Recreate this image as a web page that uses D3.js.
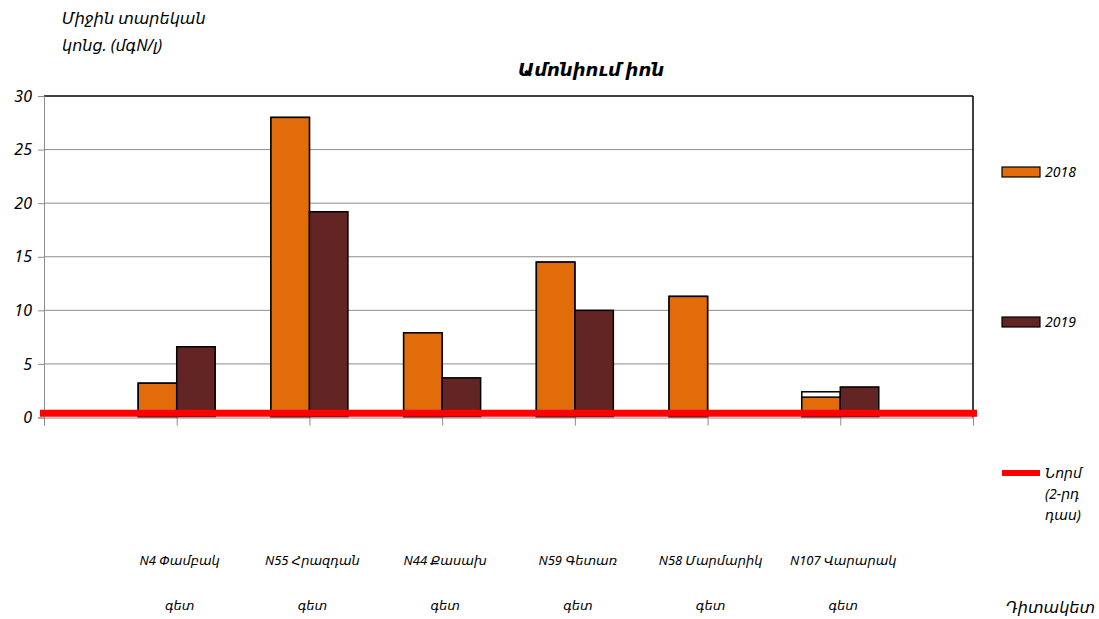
<!DOCTYPE html>
<html><head><meta charset="utf-8">
<script src="https://cdn.jsdelivr.net/npm/d3@7"></script>
<style>
body{margin:0;background:#fff;}
text{font-family:"Noto Sans","DejaVu Sans",sans-serif;font-style:italic;fill:#000;}
</style></head>
<body><svg id="c" width="1099" height="619"></svg>
<script>
const categories = ["N4 Փամբակ", "N55 Հրազդան", "N44 Քասախ", "N59 Գետառ", "N58 Մարմարիկ", "N107 Վարարակ"];
const categoryLine2 = ["գետ", "գետ", "գետ", "գետ", "գետ", "գետ"];
const values2018 = [3.2, 28.0, 7.9, 14.5, 11.3, 2.4];
const values2018Filled = [3.2, 28.0, 7.9, 14.5, 11.3, 1.9];
const values2019 = [6.6, 19.2, 3.7, 10.0, null, 2.85];
const normValue = 0.4;
const yTicks = [0, 5, 10, 15, 20, 25, 30];
const seriesNames = ["2018", "2019"];
const normLabel = ["Նորմ", "(2-րդ", "դաս)"];
const title = "Ամոնիում իոն";
const yTitle = ["Միջին տարեկան", "կոնց. (մգN/լ)"];
const xTitle = "Դիտակետ";

const svg = d3.select("#c");
const L = 44, R = 973, T = 96, B = 417.5;
const x = d3.scaleLinear().domain([0, categories.length + 1]).range([L, R]);
const y = d3.scaleLinear().domain([0, 30]).range([B, T]);
const step = x(1) - x(0);
const bw = step * 0.29;
const c2018 = "#e36c0a", c2019 = "#632523";
const FF = '"Noto Sans","DejaVu Sans",sans-serif';

// gridlines
svg.append("g").selectAll("line").data(yTicks.filter(d => d > 0 && d < 30)).join("line")
  .attr("x1", L).attr("x2", R).attr("y1", d => y(d)).attr("y2", d => y(d))
  .attr("stroke", "#8c8c8c").attr("stroke-width", 1);

// top & right border
svg.append("line").attr("x1", L).attr("x2", R).attr("y1", y(30)).attr("y2", y(30)).attr("stroke", "#000").attr("stroke-width", 1.5);
svg.append("line").attr("x1", R).attr("x2", R).attr("y1", y(30)).attr("y2", B).attr("stroke", "#000").attr("stroke-width", 1.5);

// y axis
const yAxis = d3.axisLeft(y).tickValues(yTicks).tickSize(6).tickPadding(6);
const gy = svg.append("g").attr("transform", `translate(${L},0)`).call(yAxis);
gy.select(".domain").attr("stroke", "#8c8c8c");
gy.selectAll(".tick line").attr("stroke", "#8c8c8c");
gy.selectAll(".tick text").style("font-size", "16px").style("font-family", FF).style("font-style", "italic").attr("fill", "#000");

// x axis
const xAxis = d3.axisBottom(x).tickValues(d3.range(0, categories.length + 2)).tickSize(8).tickFormat("");
const gx = svg.append("g").attr("transform", `translate(0,${B})`).call(xAxis);
gx.select(".domain").attr("stroke", "#8c8c8c");
gx.selectAll(".tick line").attr("stroke", "#8c8c8c");

// bars 2018
const g18 = svg.append("g");
g18.selectAll("rect.o").data(values2018).join("rect").attr("class", "o")
  .attr("x", (d, i) => x(i + 1) - bw).attr("width", bw)
  .attr("y", d => y(d)).attr("height", d => B - 1 - y(d))
  .attr("fill", "#fff").attr("stroke", "#000").attr("stroke-width", 1.5);
g18.selectAll("rect.f").data(values2018Filled).join("rect").attr("class", "f")
  .attr("x", (d, i) => x(i + 1) - bw).attr("width", bw)
  .attr("y", d => y(d)).attr("height", d => B - 1 - y(d))
  .attr("fill", c2018).attr("stroke", "#000").attr("stroke-width", 1.5);
// bars 2019
svg.append("g").selectAll("rect").data(values2019.map((v, i) => ({v, i})).filter(d => d.v != null)).join("rect")
  .attr("x", d => x(d.i + 1)).attr("width", bw)
  .attr("y", d => y(d.v)).attr("height", d => B - 1 - y(d.v))
  .attr("fill", c2019).attr("stroke", "#000").attr("stroke-width", 1.5);

// norm line
svg.append("line").attr("x1", L - 4).attr("x2", R + 4).attr("y1", y(normValue)).attr("y2", y(normValue))
  .attr("stroke", "#ff0000").attr("stroke-width", 7);

// category labels
const lab = svg.append("g");
lab.selectAll("text.l1").data(categories).join("text").attr("class", "l1")
  .attr("x", (d, i) => x(i + 1) + 3).attr("y", 565).attr("text-anchor", "middle")
  .style("font-size", "13px").text(d => d);
lab.selectAll("text.l2").data(categoryLine2).join("text").attr("class", "l2")
  .attr("x", (d, i) => x(i + 1) + 3).attr("y", 610).attr("text-anchor", "middle")
  .style("font-size", "13px").text(d => d);

// titles
svg.append("text").attr("x", 591).attr("y", 76).attr("text-anchor", "middle")
  .style("font-size", "18px").style("font-weight", "bold").text(title);
svg.append("g").selectAll("text").data(yTitle).join("text")
  .attr("x", 62).attr("y", (d, i) => 24 + i * 27).style("font-size", "16px").text(d => d);
svg.append("text").attr("x", 1095).attr("y", 613).attr("text-anchor", "end")
  .style("font-size", "16px").text(xTitle);

// legend
const lg = svg.append("g");
const legY = [172, 322];
[c2018, c2019].forEach((c, i) => {
  lg.append("rect").attr("x", 1002).attr("y", legY[i] - 5).attr("width", 38).attr("height", 10)
    .attr("fill", c).attr("stroke", "#000").attr("stroke-width", 1.2);
  lg.append("text").attr("x", 1045).attr("y", legY[i] + 5).style("font-size", "14px").text(seriesNames[i]);
});
lg.append("line").attr("x1", 1002).attr("x2", 1040).attr("y1", 473).attr("y2", 473).attr("stroke", "#ff0000").attr("stroke-width", 6);
lg.selectAll("text.n").data(normLabel).join("text").attr("class", "n")
  .attr("x", 1045).attr("y", (d, i) => 478 + i * 21).style("font-size", "14px").text(d => d);
</script></body></html>
